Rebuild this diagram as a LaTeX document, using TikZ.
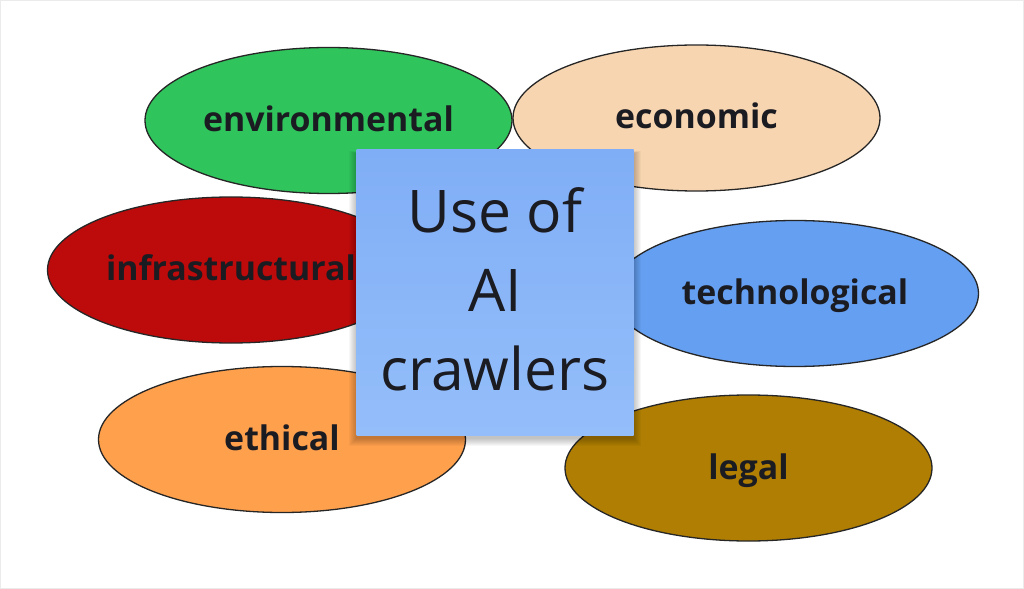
\documentclass[tikz,border=0pt]{standalone}
\usepackage{fontspec}
\setmainfont{Open Sans}
\usetikzlibrary{shapes.geometric}
\definecolor{cEnv}{HTML}{30C55C}
\definecolor{cEco}{HTML}{F7D5B0}
\definecolor{cInf}{HTML}{BD0A0A}
\definecolor{cTec}{HTML}{659FF1}
\definecolor{cEth}{HTML}{FFA04D}
\definecolor{cLeg}{HTML}{AF7E02}
\definecolor{cSqTop}{HTML}{80AEF6}
\definecolor{cSqBot}{HTML}{94BEFA}
\definecolor{cTxt}{HTML}{1B1B22}
\tikzset{
  topic/.style={ellipse, draw=black!85, line width=1.3bp, minimum width=367bp,
    minimum height=146bp, inner sep=0pt, text=cTxt,
    font=\bfseries\fontsize{34}{40}\selectfont, text height=22bp, text depth=0bp},
  hub/.style={rectangle, minimum width=277bp, minimum height=285bp, inner sep=0pt,
    top color=cSqTop, bottom color=cSqBot, draw=none},
  hubtext/.style={text=cTxt, align=center, inner sep=0pt,
    font=\fontsize{59}{79}\selectfont},
  shade layer/.style={fill=black, opacity=0.03, draw=none}
}
\begin{document}
\begin{tikzpicture}[x=1bp,y=-1bp]
\useasboundingbox (0,0) rectangle (1024,589);
\fill[white] (0,0) rectangle (1024,589);
\draw[black!8, line width=1.5bp] (0.75,0.75) rectangle (1023.25,588.25);

\node[topic, fill=cEnv] (env) at (328.5,120.5) {environmental};
\node[topic, fill=cEco] (eco) at (696.5,118) {economic};
\node[topic, fill=cInf] (inf) at (231,270) {infrastructural};
\node[topic, fill=cTec] (tec) at (795,293.5) {technological};
\node[topic, fill=cEth] (eth) at (282,439.5) {ethical};
\node[topic, fill=cLeg] (leg) at (748.5,468) {legal};

% soft shadow of the hub
\foreach \s in {1,2,...,8}{
  \fill[shade layer] (357-\s,150-\s*0.4+4) rectangle (633+\s,435+\s+3);
}
\node[hub] (hub) at (495,292.5) {};
\node[hubtext, anchor=base] (hubtxt) at (495,390) {Use of\\AI\\crawlers};
\end{tikzpicture}
\end{document}
